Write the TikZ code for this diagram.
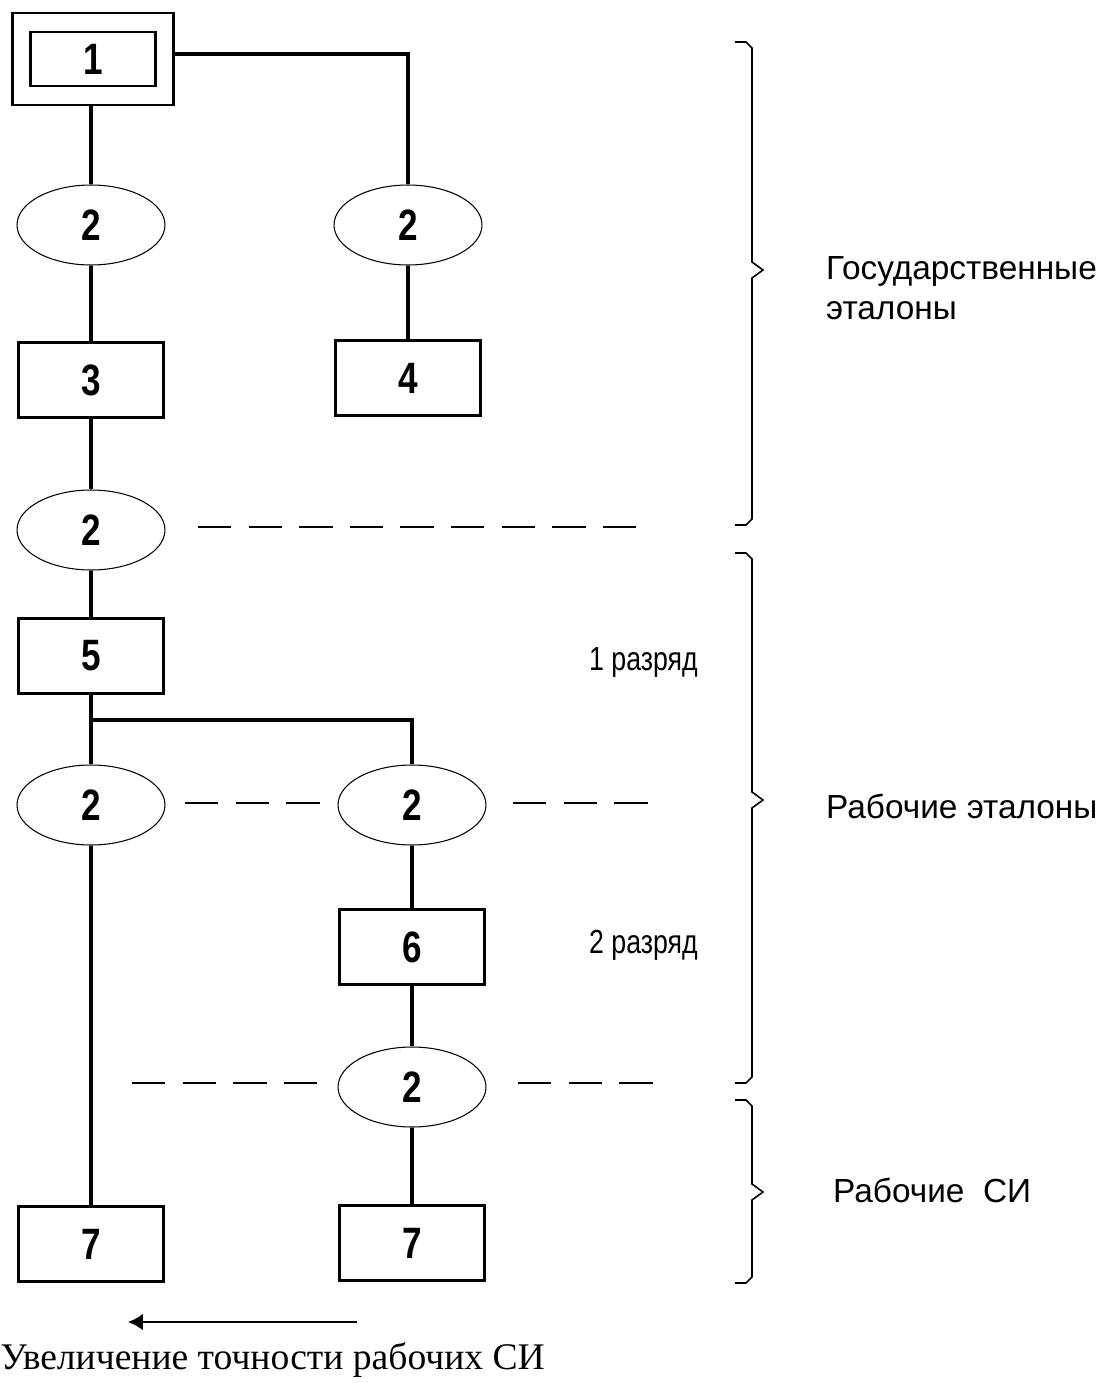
\documentclass[tikz,border=0pt]{standalone}
\usepackage{fontspec}
\setmainfont{Liberation Serif}
\newfontfamily\arialfont{Liberation Sans}
\newfontfamily\narrowfont[FakeStretch=0.8]{Liberation Sans}
\usetikzlibrary{shapes.geometric,arrows.meta}

\begin{document}
\begin{tikzpicture}[x=0.02cm, y=-0.02cm,
    box/.style={draw, line width=1.2pt, minimum width=2.9cm, minimum height=1.5cm, inner sep=0pt,
      font=\narrowfont\bfseries\fontsize{25}{25}\selectfont},
    oval/.style={draw, ellipse, line width=0.6pt, minimum width=2.96cm, minimum height=1.6cm, inner sep=0pt,
      font=\narrowfont\bfseries\fontsize{25}{25}\selectfont},
    link/.style={line width=2pt},
    dashline/.style={line width=1.2pt, dash pattern=on 19pt off 9.8pt},
    bracket/.style={line width=0.9pt, line join=miter},
    group/.style={anchor=west, align=left, font=\arialfont\fontsize{19}{23}\selectfont},
    rank/.style={anchor=west, font=\narrowfont\fontsize{19}{22}\selectfont}]
      \useasboundingbox (0,0) rectangle (1101,1383);

      \node[box, minimum width=2.5cm, minimum height=1.08cm] (b1in) at (93,59) {1};
      \node[draw, line width=1.2pt, minimum width=3.22cm, minimum height=1.84cm] (b1) at (93,59) {};
      \node[oval] (e1)  at (91,225)  {2};
      \node[oval] (e2)  at (408,225) {2};
      \node[box]  (b3)  at (91,380)  {3};
      \node[box]  (b4)  at (408,378) {4};
      \node[oval] (e3)  at (91,530)  {2};
      \node[box]  (b5)  at (91,656)  {5};
      \node[oval] (e4)  at (91,805)  {2};
      \node[oval] (e5)  at (412,805) {2};
      \node[box]  (b6)  at (412,947) {6};
      \node[oval] (e6)  at (412,1087) {2};
      \node[box]  (b7a) at (91,1244)  {7};
      \node[box]  (b7b) at (412,1243) {7};

      \draw[link] (b1.south -| e1) -- (e1.north);
      \draw[link] (b1.east |- 0,54) -| (e2.north);
      \draw[link] (e1) -- (b3);
      \draw[link] (e2) -- (b4);
      \draw[link] (b3) -- (e3);
      \draw[link] (e3) -- (b5);
      \coordinate (j) at (91,720);
      \draw[link] (b5) -- (e4);
      \draw[link] (j) -| (e5.north);
      \draw[link] (e4) -- (b7a);
      \draw[link] (e5) -- (b6);
      \draw[link] (b6) -- (e6);
      \draw[link] (e6) -- (b7b);

      \draw[dashline] (198,527) -- (641,527);
      \draw[dashline] (185,803) -- (320,803);
      \draw[dashline] (513,803) -- (648,803);
      \draw[dashline] (132,1083) -- (320,1083);
      \draw[dashline] (518,1083) -- (653,1083);

      \node[rank] (r1) at (583,662) {1 разряд};
      \node[rank] (r2) at (583,945) {2 разряд};

      \draw[bracket] (735,42) -- (746,42) -- (752,48) -- (752,262) -- (763,270) -- (752,278) -- (752,519) -- (746,525) -- (735,525);
      \draw[bracket] (735,553) -- (746,553) -- (752,559) -- (752,792) -- (763,800) -- (752,808) -- (752,1077) -- (746,1083) -- (735,1083);
      \draw[bracket] (735,1100) -- (746,1100) -- (752,1106) -- (752,1184) -- (763,1192) -- (752,1200) -- (752,1277) -- (746,1283) -- (735,1283);
      \node[group] (g1) at (820,288) {Государственные\\эталоны};
      \node[group] (g2) at (820,806) {Рабочие эталоны};
      \node[group] (g3) at (827,1190) {Рабочие\ \ СИ};

      \coordinate (a1) at (357,1322);
      \coordinate (a2) at (128,1322);
      \draw[line width=1.2pt, -{Latex[length=8.5pt,width=9.5pt]}] (a1) -- (a2);
      \node[anchor=west, inner sep=0pt, font=\fontsize{21.4}{25}\selectfont] (t) at (0,1360) {Увеличение точности рабочих СИ};
    \end{tikzpicture}
\end{document}
